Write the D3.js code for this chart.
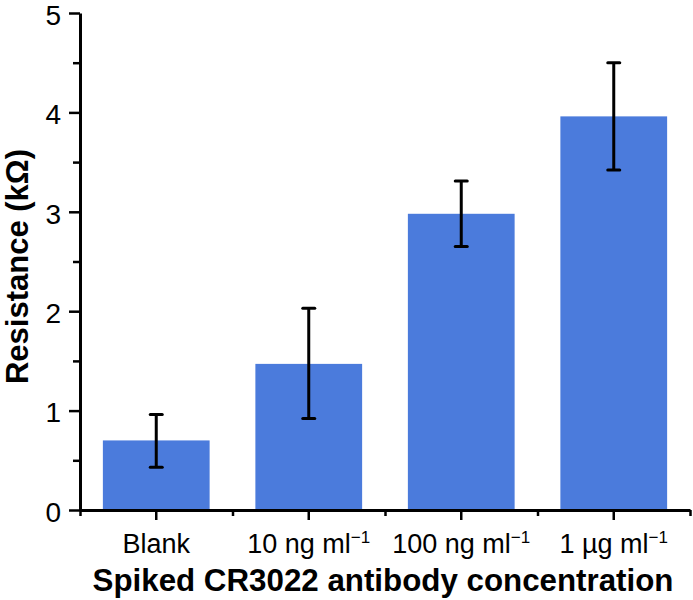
<!DOCTYPE html>
<html>
<head>
<meta charset="utf-8">
<script src="https://cdn.jsdelivr.net/npm/d3@7"></script>
<style>
  body { margin: 0; background: #fff; }
  svg { font-family: "Liberation Sans", Arial, sans-serif; }
</style>
</head>
<body>
<svg id="chart"></svg>
<script>
// Data;
const categories = ['Blank', '10 ng', '100 ng', '1 µg'];
const labelBase = ['Blank', '10 ng ml', '100 ng ml', '1 µg ml'];
const labelSup = ['', '−1', '−1', '−1'];
const resistance = [0.70, 1.47, 2.98, 3.96];
const errLow = [0.43, 0.92, 2.65, 3.42];
const errHigh = [0.96, 2.03, 3.31, 4.50];
const yTicks = [0, 1, 2, 3, 4, 5];
const yMinorTicks = [0.5, 1.5, 2.5, 3.5, 4.5];

const width = 693;
const height = 600;
const margin = { top: 13, right: 3, bottom: 90, left: 80 };
const barColor = '#4b7bdc';

const svg = d3.select('#chart').attr('width', width).attr('height', height);

const x = d3
    .scaleBand()
    .domain(categories)
    .range([margin.left, width - margin.right])
    .paddingInner(0.3)
    .paddingOuter(0.15);

// Band boundaries, for the short ticks;
const xEdges = d3
    .scaleLinear()
    .domain([0, categories.length])
    .range(x.range());

const y = d3
    .scaleLinear()
    .domain([0, 5])
    .range([height - margin.bottom, margin.top]);

const rows = categories.map((c, i) => ({
    cat: c,
    value: resistance[i],
    lo: errLow[i],
    hi: errHigh[i]
}));

// Bars;
svg.append('g')
    .selectAll('rect')
    .data(rows)
    .enter()
    .append('rect')
    .attr('x', (d) => x(d.cat))
    .attr('width', x.bandwidth())
    .attr('y', (d) => y(d.value))
    .attr('height', (d) => y(0) - y(d.value))
    .attr('fill', barColor);

// Error bars;
const capHalf = 6;
const err = svg
    .append('g')
    .attr('stroke', '#000')
    .attr('stroke-width', 3)
    .selectAll('g')
    .data(rows)
    .enter()
    .append('g')
    .attr('transform', (d) => `translate(${x(d.cat) + x.bandwidth() / 2},0)`);

err.append('line')
    .attr('y1', (d) => y(d.lo))
    .attr('y2', (d) => y(d.hi));
err.append('line')
    .attr('x1', -capHalf)
    .attr('x2', capHalf)
    .attr('y1', (d) => y(d.hi))
    .attr('y2', (d) => y(d.hi))
    .attr('stroke-linecap', 'round');
err.append('line')
    .attr('x1', -capHalf)
    .attr('x2', capHalf)
    .attr('y1', (d) => y(d.lo))
    .attr('y2', (d) => y(d.lo))
    .attr('stroke-linecap', 'round');

// Y axis, minor ticks first;
svg.append('g')
    .attr('transform', `translate(${margin.left},0)`)
    .call(d3.axisLeft(y).tickValues(yMinorTicks).tickSize(7).tickFormat(''))
    .call((g) => g.select('.domain').remove())
    .call((g) => g.selectAll('line').attr('stroke-width', 2.5));

const yAxis = svg
    .append('g')
    .attr('transform', `translate(${margin.left},0)`)
    .call(d3.axisLeft(y).tickValues(yTicks).tickSize(11).tickSizeOuter(0).tickPadding(8).tickFormat(d3.format('d')));
yAxis.select('.domain').attr('stroke-width', 3);
yAxis.selectAll('line').attr('stroke-width', 2.5);
yAxis.selectAll('text')
    .attr('font-size', 28)
    .attr('dy', '0.4em')
    .attr('fill', '#000')
    .attr('font-family', null);

// X axis;
svg.append('g')
    .attr('transform', `translate(0,${y(0)})`)
    .call(d3.axisBottom(xEdges).ticks(categories.length).tickSize(6).tickFormat(''))
    .call((g) => g.select('.domain').remove())
    .call((g) => g.selectAll('line').attr('stroke-width', 2.5));

const xAxis = svg
    .append('g')
    .attr('transform', `translate(0,${y(0)})`)
    .call(d3.axisBottom(x).tickSize(10).tickSizeOuter(0).tickPadding(14));
xAxis.select('.domain').attr('stroke-width', 3);
xAxis.selectAll('line').attr('stroke-width', 2.5);

// Labels with superscripts;
xAxis.selectAll('text')
    .attr('font-size', 27)
    .attr('fill', '#000')
    .attr('font-family', null)
    .text(null)
    .each(function (d, i) {
        const t = d3.select(this);
        t.append('tspan').text(labelBase[i]);
        if (labelSup[i]) {
            t.append('tspan').attr('font-size', 17).attr('dy', -10).text(labelSup[i]);
        }
    });

// Axis titles;
svg.append('text')
    .attr('transform', `translate(28,${(margin.top + y(0)) / 2 + 5}) rotate(-90)`)
    .attr('text-anchor', 'middle')
    .attr('font-size', 31)
    .attr('font-weight', 'bold')
    .text('Resistance (kΩ)');

svg.append('text')
    .attr('x', 383)
    .attr('y', 591)
    .attr('text-anchor', 'middle')
    .attr('font-size', 31.3)
    .attr('font-weight', 'bold')
    .text('Spiked CR3022 antibody concentration');
</script>
</body>
</html>
